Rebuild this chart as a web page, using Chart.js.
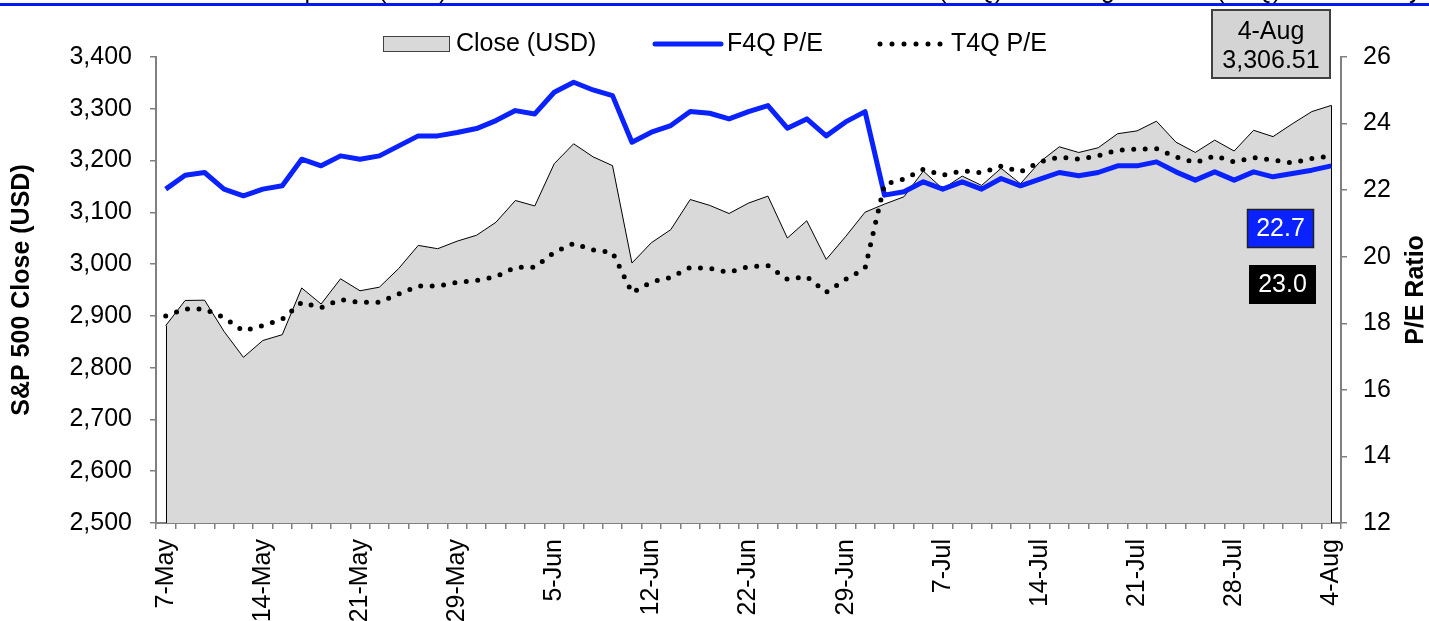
<!DOCTYPE html>
<html>
<head>
<meta charset="utf-8">
<script src="https://cdn.jsdelivr.net/npm/chart.js@4.4.1/dist/chart.umd.min.js"></script>
<style>
  body { margin: 0; background: #fff; }
  #wrap { position: relative; width: 1429px; height: 621px; }
</style>
</head>
<body>
<div id="wrap"><canvas id="myChart"></canvas></div>
<script>
const FONT = 'Arial, "Liberation Sans", sans-serif'
const blue = '#0a22ff'

// trading days, 7-May to 4-Aug
const dates = ['7-May', '8-May', '11-May', '12-May', '13-May', '14-May', '15-May', '18-May', '19-May', '20-May',
    '21-May', '22-May', '26-May', '27-May', '28-May', '29-May', '1-Jun', '2-Jun', '3-Jun', '4-Jun',
    '5-Jun', '8-Jun', '9-Jun', '10-Jun', '11-Jun', '12-Jun', '15-Jun', '16-Jun', '17-Jun', '19-Jun',
    '22-Jun', '23-Jun', '24-Jun', '25-Jun', '26-Jun', '29-Jun', '30-Jun', '1-Jul', '2-Jul', '6-Jul',
    '7-Jul', '8-Jul', '9-Jul', '10-Jul', '13-Jul', '14-Jul', '15-Jul', '16-Jul', '17-Jul', '20-Jul',
    '21-Jul', '22-Jul', '23-Jul', '24-Jul', '27-Jul', '28-Jul', '29-Jul', '30-Jul', '31-Jul', '3-Aug',
    '4-Aug']

const closeUsd = [2881.19, 2929.80, 2930.32, 2870.12, 2820.00, 2852.50, 2863.70, 2953.91, 2922.94, 2971.61,
    2948.51, 2955.45, 2991.77, 3036.13, 3029.73, 3044.31, 3055.73, 3080.82, 3122.87, 3112.35,
    3193.93, 3232.39, 3207.18, 3190.14, 3002.10, 3041.31, 3066.59, 3124.74, 3113.49, 3097.74,
    3117.86, 3131.29, 3050.33, 3083.76, 3009.05, 3053.24, 3100.29, 3115.86, 3130.01, 3179.72,
    3145.32, 3169.94, 3152.05, 3185.04, 3155.22, 3197.52, 3226.56, 3215.57, 3224.73, 3251.84,
    3257.30, 3276.02, 3235.66, 3215.63, 3239.41, 3218.44, 3258.44, 3246.22, 3271.12, 3294.61,
    3306.51]

const f4qPe = [22.03, 22.45, 22.53, 22.03, 21.83, 22.03, 22.13, 22.93, 22.73, 23.03,
    22.93, 23.03, 23.33, 23.63, 23.63, 23.73, 23.85, 24.09, 24.39, 24.29,
    24.94, 25.24, 25.01, 24.84, 23.44, 23.74, 23.94, 24.36, 24.31, 24.14,
    24.36, 24.54, 23.86, 24.14, 23.63, 24.05, 24.36, 21.85, 21.95, 22.25,
    22.03, 22.25, 22.03, 22.35, 22.13, 22.33, 22.53, 22.43, 22.53, 22.73,
    22.73, 22.85, 22.55, 22.30, 22.55, 22.30, 22.55, 22.40, 22.50, 22.60,
    22.73]

const t4qPe = [18.22, 18.43, 18.43, 18.17, 17.77, 17.93, 18.12, 18.63, 18.47, 18.71,
    18.63, 18.63, 18.88, 19.12, 19.12, 19.23, 19.29, 19.40, 19.68, 19.68,
    20.13, 20.40, 20.20, 20.13, 18.92, 19.24, 19.38, 19.68, 19.65, 19.53,
    19.70, 19.73, 19.32, 19.40, 18.93, 19.32, 19.65, 22.18, 22.33, 22.63,
    22.45, 22.58, 22.52, 22.72, 22.55, 22.85, 22.99, 22.93, 23.03, 23.20,
    23.23, 23.25, 23.00, 22.83, 23.03, 22.85, 22.98, 22.90, 22.82, 22.95,
    23.03]

const leftTicks = [2500, 2600, 2700, 2800, 2900, 3000, 3100, 3200, 3300, 3400]
const rightTicks = [12, 14, 16, 18, 20, 22, 24, 26]

/*------ things Excel drew on top: legend, text boxes, cut title ------*/
const extras = {
    id: 'extras',
    afterDatasetDraw(chart, args) {
        // area chart edges at first and last point
        if (args.index !== 0) return
        const pts = args.meta.data
        const bottom = chart.chartArea.bottom
        const ctx = chart.ctx
        ctx.save()
        ctx.strokeStyle = '#000'
        ctx.lineWidth = 1
        ctx.beginPath()
        for (const p of [pts[0], pts[pts.length - 1]]) {
            const x = Math.round(p.x) + 0.5
            ctx.moveTo(x, p.y)
            ctx.lineTo(x, bottom)
        }
        ctx.stroke()
        ctx.restore()
    },
    afterDraw(chart) {
        const ctx = chart.ctx
        const sets = chart.data.datasets
        const last = dates.length - 1
        ctx.save()

        // cut-off title at the very top
        ctx.fillStyle = '#001aee'
        ctx.fillRect(0, 3, 1429, 3)
        ctx.fillStyle = '#000'
        ctx.font = '25px ' + FONT
        ctx.textBaseline = 'alphabetic'
        ctx.textAlign = 'left'
        ctx.fillText('S&P 500 Composite (USD) with Forward P/E Ratio', 146, -2.5)
        ctx.fillText('(F4Q) & Trailing P/E', 938, -2.5)
        ctx.fillText('(T4Q) Ratios Daily', 1216, -2.5)

        // legend
        ctx.textBaseline = 'middle'
        ctx.fillStyle = '#d9d9d9'
        ctx.fillRect(383.5, 36.5, 66, 15)
        ctx.strokeStyle = '#404040'
        ctx.lineWidth = 1
        ctx.strokeRect(383.5, 36.5, 66, 15)
        ctx.fillStyle = '#000'
        ctx.fillText(sets[0].label, 456, 44)

        ctx.strokeStyle = blue
        ctx.lineWidth = 5
        ctx.lineCap = 'round'
        ctx.beginPath()
        ctx.moveTo(655, 44)
        ctx.lineTo(721, 44)
        ctx.stroke()
        ctx.fillText(sets[1].label, 727, 44)

        ctx.strokeStyle = '#000'
        ctx.setLineDash([0, 12])
        ctx.beginPath()
        ctx.moveTo(880, 44)
        ctx.lineTo(941, 44)
        ctx.stroke()
        ctx.setLineDash([])
        ctx.fillText(sets[2].label, 951, 44)

        // last close box
        ctx.fillStyle = '#d4d4d4'
        ctx.fillRect(1212, 10, 118, 68)
        ctx.strokeStyle = '#404040'
        ctx.lineWidth = 2
        ctx.strokeRect(1212, 10, 118, 68)
        ctx.fillStyle = '#000'
        ctx.textAlign = 'center'
        ctx.fillText(dates[last], 1271, 32)
        ctx.fillText(closeUsd[last].toLocaleString('en-US', { minimumFractionDigits: 2 }), 1271, 61)

        // last P/E boxes
        ctx.fillStyle = blue
        ctx.fillRect(1247.5, 209.5, 66, 38)
        ctx.strokeStyle = '#202020'
        ctx.lineWidth = 1.5
        ctx.strokeRect(1247.5, 209.5, 66, 38)
        ctx.fillStyle = '#fff'
        ctx.fillText(f4qPe[last].toFixed(1), 1280.5, 229)

        ctx.fillStyle = '#000'
        ctx.fillRect(1249, 265, 67, 39)
        ctx.fillStyle = '#fff'
        ctx.fillText(t4qPe[last].toFixed(1), 1282.5, 285)

        // right axis title, reading upward like the left one
        const area = chart.chartArea
        ctx.fillStyle = '#000'
        ctx.font = 'bold 25px ' + FONT
        ctx.translate(1416, (area.top + area.bottom) / 2)
        ctx.rotate(-Math.PI / 2)
        ctx.fillText('P/E Ratio', 0, 0)
        ctx.restore()
    }
}

const tickFont = { family: FONT, size: 25 }
const axisGrid = { drawOnChartArea: false, drawTicks: true, tickLength: 6, color: '#808080', lineWidth: 1.5 }
const axisBorder = { color: '#808080', width: 2 }

const ctx = document.getElementById('myChart').getContext('2d')
const myChart = new Chart(ctx, {
    type: 'line',
    data: {
        labels: dates,
        datasets: [
            {
                label: 'Close (USD)',
                data: closeUsd,
                yAxisID: 'yLeft',
                fill: 'start',
                backgroundColor: '#d9d9d9',
                borderColor: '#000',
                borderWidth: 1,
                pointRadius: 0,
                order: 3
            },
            {
                label: 'F4Q P/E',
                data: f4qPe,
                yAxisID: 'yRight',
                fill: false,
                borderColor: blue,
                borderWidth: 5,
                borderJoinStyle: 'round',
                pointRadius: 0,
                order: 2
            },
            {
                label: 'T4Q P/E',
                data: t4qPe,
                yAxisID: 'yRight',
                fill: false,
                borderColor: '#000',
                borderWidth: 5,
                borderDash: [0, 11.5],
                borderCapStyle: 'round',
                pointRadius: 0,
                order: 1
            }
        ]
    },
    options: {
        responsive: true,
        maintainAspectRatio: false,
        animation: false,
        events: [],
        layout: { padding: { top: 57 } },
        plugins: {
            legend: { display: false },
            tooltip: { enabled: false }
        },
        scales: {
            x: {
                type: 'category',
                offset: true,
                grid: Object.assign({ offset: true }, axisGrid),
                border: axisBorder,
                ticks: {
                    autoSkip: false,
                    minRotation: 90,
                    maxRotation: 90,
                    padding: 10,
                    color: '#000',
                    font: tickFont,
                    callback: function(value, index) {
                        return index % 5 === 0 ? this.getLabelForValue(value) : ''
                    }
                },
                afterFit: scale => { scale.height = 98 }
            },
            yLeft: {
                type: 'linear',
                position: 'left',
                min: leftTicks[0],
                max: leftTicks[leftTicks.length - 1],
                grid: axisGrid,
                border: axisBorder,
                afterBuildTicks: axis => { axis.ticks = leftTicks.map(value => ({ value })) },
                ticks: { padding: 18, color: '#000', font: tickFont },
                title: {
                    display: true,
                    text: 'S&P 500 Close (USD)',
                    color: '#000',
                    font: { family: FONT, size: 25, weight: 'bold', lineHeight: 1 },
                    padding: { top: 10, bottom: 0 }
                },
                afterFit: scale => { scale.width = 156 }
            },
            yRight: {
                type: 'linear',
                position: 'right',
                min: rightTicks[0],
                max: rightTicks[rightTicks.length - 1],
                grid: axisGrid,
                border: axisBorder,
                afterBuildTicks: axis => { axis.ticks = rightTicks.map(value => ({ value })) },
                ticks: { padding: 16, color: '#000', font: tickFont },
                afterFit: scale => { scale.width = 88 }
            }
        }
    },
    plugins: [extras]
})
</script>
</body>
</html>
